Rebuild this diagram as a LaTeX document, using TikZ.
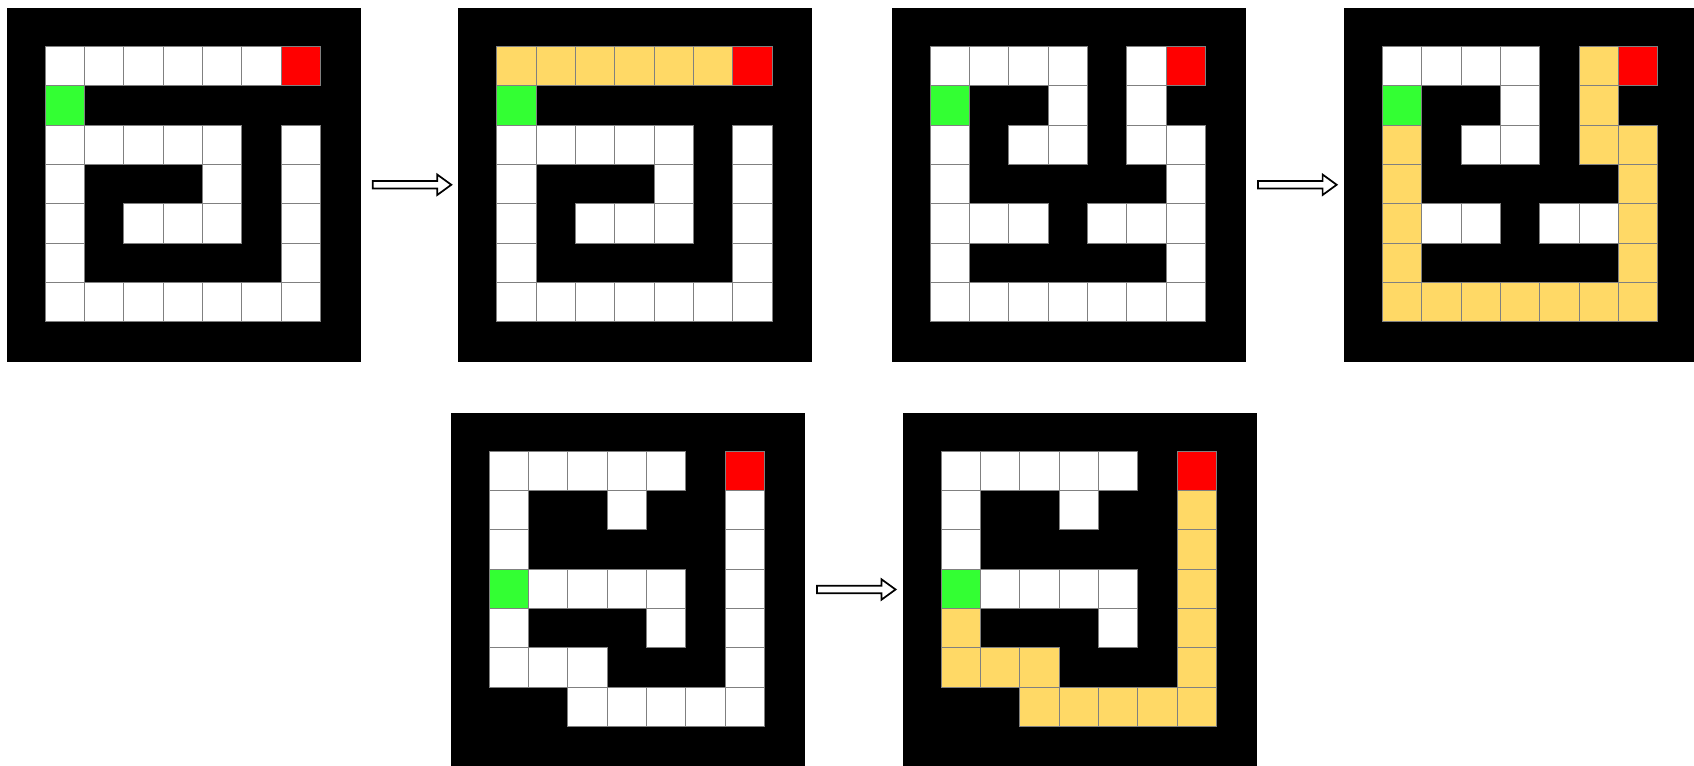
\documentclass[tikz,border=0pt]{standalone}
\usepackage{tikz}
\usetikzlibrary{calc,shapes.arrows}
\definecolor{cW}{RGB}{255,255,255}
\definecolor{cY}{RGB}{255,217,102}
\definecolor{cG}{RGB}{51,255,51}
\definecolor{cR}{RGB}{255,0,0}
\tikzset{
  maze/.style={fill=black, minimum size=36mm, inner sep=0pt, anchor=north west},
  cell/.style={fill=c#1, draw=gray, line width=0.3pt},
  flow/.style={single arrow, draw, fill=white, line width=0.5pt, inner xsep=0pt, inner ysep=0.3mm, minimum height=8mm, single arrow head extend=0.65mm, single arrow tip angle=72},
}
\newcommand{\mazecells}[2]{%
  \foreach \row [count=\ri from 0] in {#2}
    \foreach \cl [count=\ci from 0] in \row {
      \if\cl B\else
        \path[cell=\cl] ($(#1.north west)+(\ci+1,-\ri-1)$) rectangle ++(1,-1);
      \fi
    }%
}

\begin{document}
\begin{tikzpicture}[x=4mm, y=4mm]
\useasboundingbox (0,0) rectangle (43.07,19.45);
\node[maze] (m1) at (0.15,19.27) {};
\node[maze] (m2) at (11.63,19.27) {};
\node[maze] (m3) at (22.65,19.27) {};
\node[maze] (m4) at (34.15,19.27) {};
\node[maze] (m5) at (11.44,8.98) {};
\node[maze] (m6) at (22.93,8.98) {};
\mazecells{m1}{{W,W,W,W,W,W,R},{G,B,B,B,B,B,B},{W,W,W,W,W,B,W},{W,B,B,B,W,B,W},{W,B,W,W,W,B,W},{W,B,B,B,B,B,W},{W,W,W,W,W,W,W}}
\mazecells{m2}{{Y,Y,Y,Y,Y,Y,R},{G,B,B,B,B,B,B},{W,W,W,W,W,B,W},{W,B,B,B,W,B,W},{W,B,W,W,W,B,W},{W,B,B,B,B,B,W},{W,W,W,W,W,W,W}}
\mazecells{m3}{{W,W,W,W,B,W,R},{G,B,B,W,B,W,B},{W,B,W,W,B,W,W},{W,B,B,B,B,B,W},{W,W,W,B,W,W,W},{W,B,B,B,B,B,W},{W,W,W,W,W,W,W}}
\mazecells{m4}{{W,W,W,W,B,Y,R},{G,B,B,W,B,Y,B},{Y,B,W,W,B,Y,Y},{Y,B,B,B,B,B,Y},{Y,W,W,B,W,W,Y},{Y,B,B,B,B,B,Y},{Y,Y,Y,Y,Y,Y,Y}}
\mazecells{m5}{{W,W,W,W,W,B,R},{W,B,B,W,B,B,W},{W,B,B,B,B,B,W},{G,W,W,W,W,B,W},{W,B,B,B,W,B,W},{W,W,W,B,B,B,W},{B,B,W,W,W,W,W}}
\mazecells{m6}{{W,W,W,W,W,B,R},{W,B,B,W,B,B,Y},{W,B,B,B,B,B,Y},{G,W,W,W,W,B,Y},{Y,B,B,B,W,B,Y},{Y,Y,Y,B,B,B,Y},{B,B,Y,Y,Y,Y,Y}}
\path (m1) -- node[flow] (a1) {} (m2);
\path (m3) -- node[flow] (a2) {} (m4);
\path (m5) -- node[flow] (a3) {} (m6);
\end{tikzpicture}
\end{document}
